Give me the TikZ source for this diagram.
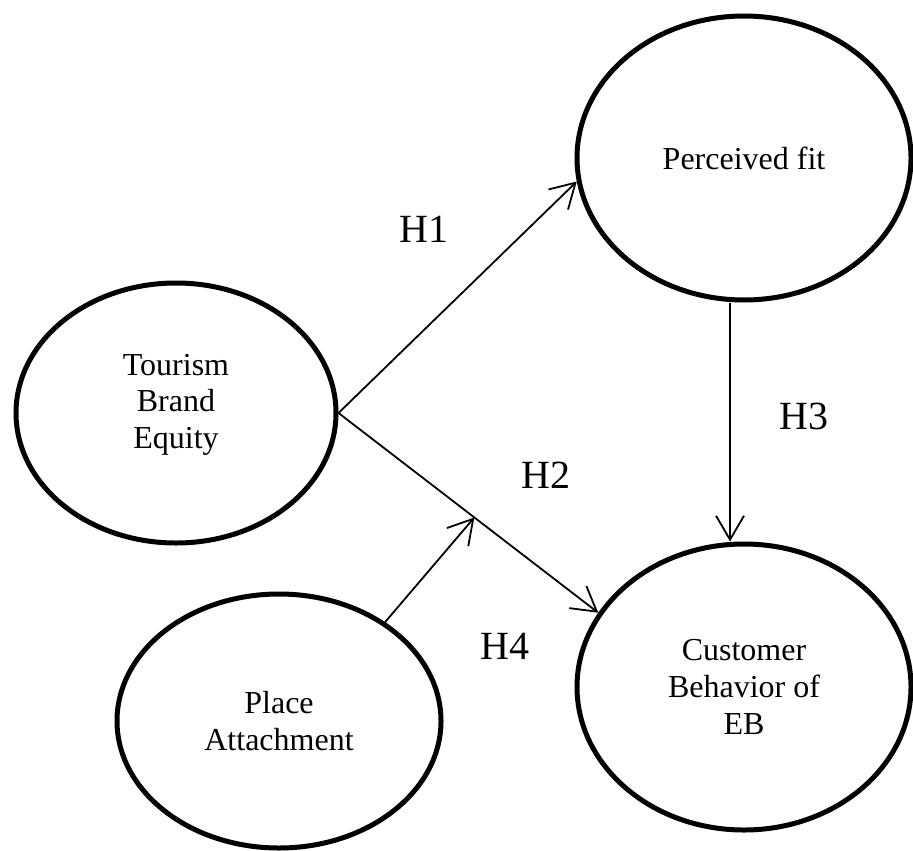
\documentclass[tikz,border=0pt]{standalone}
\usepackage{fontspec}
\setmainfont{Liberation Serif}
\usetikzlibrary{shapes.geometric,arrows.meta}

\tikzset{
  construct/.style={draw, ellipse, line width=2.5pt, inner sep=0pt, align=center,
                    font=\fontsize{16}{18.3}\selectfont},
  hyp/.style={font=\fontsize{20}{24}\selectfont, inner sep=0pt},
  arr/.style={-{Straight Barb[length=12pt,width=14pt]}, line width=0.9pt}
}

\begin{document}
\begin{tikzpicture}[x=0.5pt,y=-0.5pt]

            \useasboundingbox (0,0) rectangle (913,850);
             %constructs
            \node[construct, minimum width=160pt, minimum height=130pt, text depth=12pt] (tbe) at (176,413) {Tourism\\Brand\\Equity};
            \node[construct, minimum width=167pt, minimum height=142pt] (pf) at (744,158) {Perceived fit};
            \node[construct, minimum width=167pt, minimum height=143pt] (cb) at (744,687) {Customer\\Behavior of\\EB};
            \node[construct, minimum width=162pt, minimum height=127pt] (pa) at (279,721) {Place\\Attachment};
             %paths
            \draw[arr] (tbe.east) -- (pf.188);
            \draw[arr] (tbe.east) -- coordinate[pos=0.523] (h2 mid) (cb.153);
            \draw[arr] ([xshift=-7pt]pf.south) -- ([xshift=-7pt]cb.north);
            \draw[arr] (pa.43) -- (h2 mid);
             %hypotheses
            \node[hyp] (h1) at (424,229) {H1};
            \node[hyp] (h2) at (546,475) {H2};
            \node[hyp] (h3) at (804,416) {H3};
            \node[hyp] (h4) at (505,646) {H4};
             \end{tikzpicture}
\end{document}
